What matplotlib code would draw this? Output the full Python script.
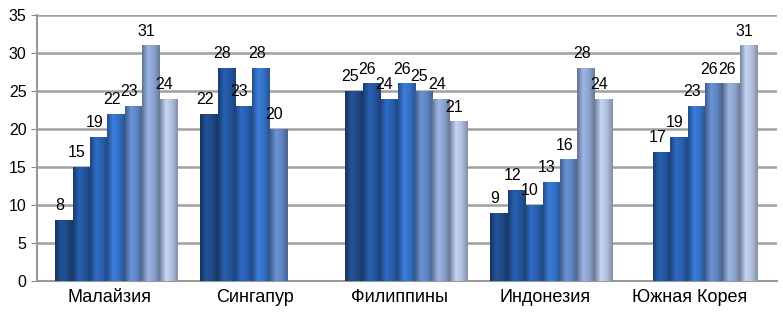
import numpy as np
import matplotlib.pyplot as plt
from matplotlib.colors import LinearSegmentedColormap, to_rgb

plt.rcParams['font.family'] = ['Liberation Sans', 'DejaVu Sans']

countries = ['Малайзия', 'Сингапур', 'Филиппины', 'Индонезия', 'Южная Корея']
# 7 series per country, nan = no bar
s1 = [8, 22, 25, 9, np.nan]
s2 = [15, 28, 26, 12, 17]
s3 = [19, 23, 24, 10, 19]
s4 = [22, 28, 26, 13, 23]
s5 = [23, 20, 25, 16, 26]
s6 = [31, np.nan, 24, 28, 26]
s7 = [24, np.nan, 21, 24, 31]
series = [s1, s2, s3, s4, s5, s6, s7]
colors = ['#1F4A87', '#24569F', '#2B60B0', '#3470C4', '#5F84C0', '#8BA2CE', '#AFBEDC']
yticks = [0, 5, 10, 15, 20, 25, 30, 35]

fig = plt.figure(figsize=(7.83, 3.13), dpi=100)
ax = fig.add_axes([37 / 783, 0.102, 740 / 783, 0.85])

x = np.arange(len(countries))
w = 0.12
for i, vals in enumerate(series):
    pos = x + (i - 3) * w + 0.045
    bars = ax.bar(pos, vals, width=w, color=colors[i], edgecolor='none', zorder=3)
    c = np.array(to_rgb(colors[i]))
    cmap = LinearSegmentedColormap.from_list(
        'g%d' % i, [c * 0.7, np.minimum(c * 1.12, 1), c, c * 0.75])
    for b, v in zip(bars, vals):
        if np.isnan(v):
            continue
        x0, y0 = b.get_x(), b.get_y()
        im = ax.imshow(np.linspace(0, 1, 50).reshape(1, -1), cmap=cmap,
                       extent=[x0, x0 + b.get_width(), y0, y0 + b.get_height()],
                       aspect='auto', zorder=4)
        im.set_clip_path(b)
        ax.text(b.get_x() + b.get_width() / 2 - 0.03, v + 0.9, '%d' % v,
                ha='center', va='bottom', fontsize=11.5, zorder=5)

ax.set_xlim(-0.5, len(countries) - 0.4)
ax.set_ylim(0, 35)
ax.set_yticks(yticks)
ax.set_xticks(x)
ax.set_xticklabels(countries, fontsize=13)
ax.tick_params(axis='y', labelsize=11.5, color='#888888', length=4)
ax.tick_params(axis='x', length=0, pad=6)
ax.grid(axis='y', color='#A0A0A0', linewidth=1.8, zorder=0)
for s in ['top', 'right']:
    ax.spines[s].set_visible(False)
for s in ['left', 'bottom']:
    ax.spines[s].set_color('#999999')
    ax.spines[s].set_linewidth(1.5)

fig.savefig('out.png', dpi=100)
